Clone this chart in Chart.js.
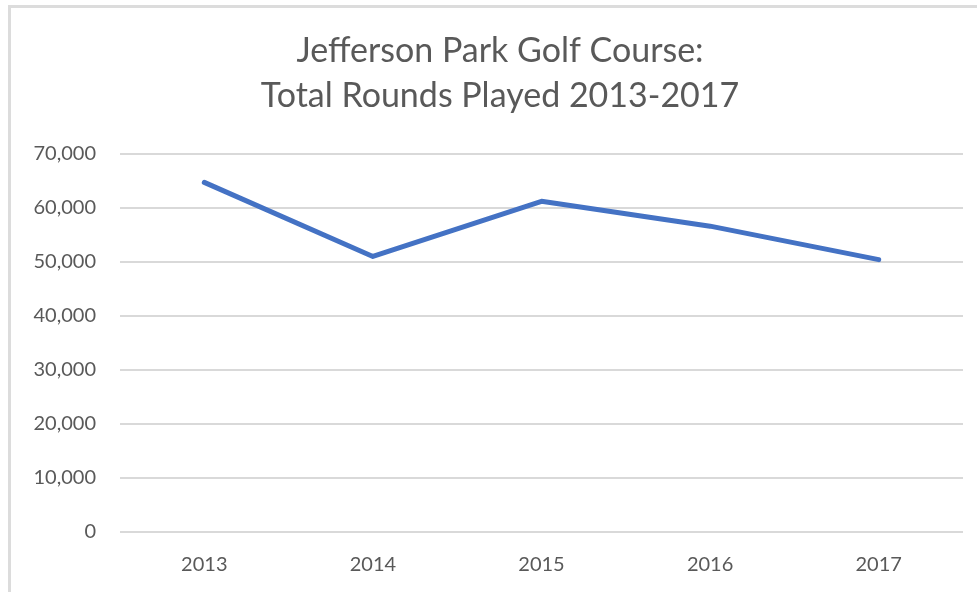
<!DOCTYPE html>
<html>
<head>
<meta charset="utf-8">
<script src="https://cdn.jsdelivr.net/npm/chart.js@4/dist/chart.umd.min.js"></script>
<style>
  html, body { margin: 0; padding: 0; background: #fff; overflow: hidden; }
  #wrap { position: relative; width: 977px; height: 592px; overflow: hidden; }
  #frame {
    position: absolute; left: 8px; top: 5px; width: 1000px; height: 700px;
    border-left: 3px solid #dcdcdc; border-top: 3px solid #dcdcdc;
  }
  canvas { position: absolute; left: 0; top: 0; }
</style>
</head>
<body>
<div id="wrap">
  <div id="frame"></div>
  <canvas id="chart" width="1000" height="592"></canvas>
</div>
<script>
// ─── データ ──────────────────────────────────────
const TITLE_LINES = ['Jefferson Park Golf Course:', 'Total Rounds Played 2013-2017'];
const YEARS  = ['2013', '2014', '2015', '2016', '2017'];
const ROUNDS = [64700, 51000, 61200, 56600, 50400];
const Y_MAX  = 70000;
const Y_STEP = 10000;

const TEXT_COLOR = '#595959';
const GRID_COLOR = '#d9d9d9';
const FONT = 'Lato, "Open Sans", sans-serif';

// キャンバスは 1000px 幅（右端はページ外）、右に空の軸を置いてタイトル中心を x=500 に
new Chart(document.getElementById('chart').getContext('2d'), {
  type: 'line',
  data: {
    labels: YEARS,
    datasets: [{
      label: 'Total Rounds',
      data: ROUNDS,
      borderColor: '#4472C4',
      borderWidth: 5,
      borderCapStyle: 'round',
      borderJoinStyle: 'round',
      pointRadius: 0,
      tension: 0,
      fill: false,
      yAxisID: 'y',
    }],
  },
  options: {
    responsive: false,
    animation: false,
    layout: { padding: 0 },
    plugins: {
      legend: { display: false },
      tooltip: { enabled: false },
      title: {
        display: true,
        text: TITLE_LINES,
        color: TEXT_COLOR,
        font: { family: FONT, size: 34, weight: 'normal', lineHeight: 1.32 },
        padding: { top: 29, bottom: 35 },
      },
    },
    scales: {
      x: {
        offset: true,
        grid: { display: false, drawTicks: false, offset: true },
        border: { display: false },
        ticks: { color: TEXT_COLOR, font: { family: FONT, size: 20 }, padding: 21 },
        afterFit: s => { s.height = 60; },
      },
      y: {
        min: 0, max: Y_MAX,
        grid: { color: GRID_COLOR, lineWidth: 2, drawTicks: false },
        border: { display: false },
        ticks: {
          stepSize: Y_STEP,
          color: TEXT_COLOR,
          font: { family: FONT, size: 20 },
          padding: 24,
          callback: v => v.toLocaleString('en-US'),
        },
        afterFit: s => { s.width = 120; },
      },
      yRight: {
        position: 'right',
        min: 0, max: Y_MAX,
        grid: { display: false, drawTicks: false },
        border: { display: false },
        ticks: { display: false },
        afterFit: s => { s.width = 37; },
      },
    },
  },
});
</script>
</body>
</html>
